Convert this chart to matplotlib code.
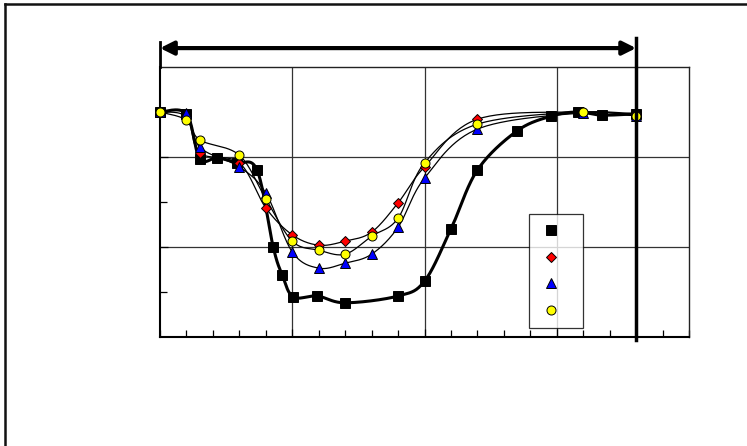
import numpy as np
import matplotlib
matplotlib.use("Agg")
import matplotlib.pyplot as plt
from matplotlib.lines import Line2D
from matplotlib.patches import FancyArrowPatch

# ---------------- data ----------------
sq_x = [0, 1.0, 1.5, 2.16, 2.9, 3.67, 4.28, 4.62, 5.04, 5.95, 7.0, 9.0, 10.0, 11.0, 12.0, 13.5, 14.8, 15.8, 16.7, 18.0]
sq_y = [5.0, 4.96, 3.96, 3.98, 3.87, 3.71, 2.0, 1.38, 0.89, 0.91, 0.76, 0.91, 1.24, 2.4, 3.71, 4.58, 4.91, 5.0, 4.93, 4.96]

red_x = [0, 1.0, 1.5, 3.0, 4.0, 5.0, 6.0, 7.0, 8.0, 9.0, 10.0, 12.0, 16.0, 18.0]
red_y = [5.0, 4.89, 4.09, 3.87, 2.87, 2.27, 2.04, 2.13, 2.33, 2.98, 3.78, 4.84, 5.0, 4.96]

blue_x = [0, 1.0, 1.5, 3.0, 4.0, 5.0, 6.0, 7.0, 8.0, 9.0, 10.0, 12.0, 16.0, 18.0]
blue_y = [5.0, 4.98, 4.22, 3.78, 3.2, 1.89, 1.53, 1.64, 1.84, 2.44, 3.53, 4.62, 4.98, 4.91]

yel_x = [0, 1.0, 1.5, 3.0, 4.0, 5.0, 6.0, 7.0, 8.0, 9.0, 10.0, 12.0, 16.0, 18.0]
yel_y = [5.0, 4.82, 4.38, 4.04, 3.07, 2.13, 1.93, 1.84, 2.24, 2.64, 3.87, 4.73, 5.0, 4.91]

x_range = [0, 20]
y_range = [0, 6]
span_end = 18.0


def smooth(xs, ys, n=30):
    """Excel-style smoothed line (cubic Bezier, tension 1/6)."""
    P = np.column_stack([xs, ys]).astype(float)
    out = [P[0]]
    t = np.linspace(0, 1, n)[1:, None]
    for i in range(len(P) - 1):
        p0 = P[i - 1] if i > 0 else P[i]
        p1, p2 = P[i], P[i + 1]
        p3 = P[i + 2] if i + 2 < len(P) else P[i + 1]
        c1 = p1 + (p2 - p0) / 6.0
        c2 = p2 - (p3 - p1) / 6.0
        seg = ((1 - t) ** 3) * p1 + 3 * ((1 - t) ** 2) * t * c1 + 3 * (1 - t) * t ** 2 * c2 + t ** 3 * p2
        out.extend(seg)
    out = np.array(out)
    return out[:, 0], out[:, 1]


W, H = 747, 446
fig = plt.figure(figsize=(W / 100, H / 100), dpi=100)
ax = fig.add_axes([160 / W, (H - 337) / H, 529 / W, 270 / H])
ax.set_xlim(*x_range)
ax.set_ylim(*y_range)

# grid & ticks
ax.set_xticks([5, 10, 15])
ax.set_yticks([2, 4])
ax.set_xticks(np.arange(0, 21, 1), minor=True)
ax.set_yticks([1, 3, 5], minor=True)
ax.grid(True, which="major", color="#333333", linewidth=0.9)
ax.tick_params(which="both", direction="in", labelbottom=False, labelleft=False,
               top=False, right=False, color="black")
ax.tick_params(which="major", length=6, width=0.9)
ax.tick_params(which="minor", length=5, width=0.9)
for s in ["left", "bottom"]:
    ax.spines[s].set_linewidth(1.5)
for s in ["top", "right"]:
    ax.spines[s].set_linewidth(1.0)
    ax.spines[s].set_color("#222222")

# curves
bx, by = smooth(sq_x, sq_y)
ax.plot(bx, by, color="black", lw=2.2, zorder=3, solid_capstyle="round")
for xs, ys in [(red_x, red_y), (blue_x, blue_y), (yel_x, yel_y)]:
    cx, cy = smooth(xs, ys)
    ax.plot(cx, cy, color="black", lw=0.9, zorder=3)

# markers
mk = dict(linestyle="none", markeredgecolor="black", markeredgewidth=0.7, zorder=4, clip_on=False)
h1, = ax.plot(sq_x, sq_y, marker="s", markersize=6.5, markerfacecolor="black", **mk)
h2, = ax.plot(red_x, red_y, marker="D", markersize=5.5, markerfacecolor="#ff0000", **mk)
h3, = ax.plot(blue_x, blue_y, marker="^", markersize=7, markerfacecolor="#0000ff", **mk)
h4, = ax.plot(yel_x, yel_y, marker="o", markersize=6.5, markerfacecolor="#ffff00", **mk)

leg = ax.legend([h1, h2, h3, h4], ["", "", "", ""], loc="upper left",
                bbox_to_anchor=((529 - 160) / 529, (337 - 214) / 270),
                frameon=True, fancybox=False, handlelength=1.68, handletextpad=0.72,
                borderpad=0.74, labelspacing=0.9, fontsize=10, borderaxespad=0,
                markerscale=1.0)
leg.get_frame().set_edgecolor("black")
leg.get_frame().set_linewidth(0.9)
leg.set_zorder(5)

# span marker: vertical line at span_end, arrow across the top
ax.axvline(span_end, ymin=-0.01, ymax=(337 - 38) / 270, color="black", lw=2.5, clip_on=False, zorder=6)
ax.plot([0, 0], [6, 6.56], color="black", lw=2.0, clip_on=False, zorder=6)
arr = FancyArrowPatch((0, 6.42), (span_end, 6.42), arrowstyle="<|-|>", mutation_scale=20,
                      color="black", lw=3, clip_on=False, shrinkA=0, shrinkB=0)
ax.add_patch(arr)

# outer frame (top and left edges)
fig.add_artist(Line2D([4.5 / W, 4.5 / W], [0, 1 - 3.5 / H], color="#111111", lw=1.8))
fig.add_artist(Line2D([4.5 / W, 1], [1 - 3.5 / H, 1 - 3.5 / H], color="#111111", lw=1.8))

fig.savefig("out.png", dpi=100)
